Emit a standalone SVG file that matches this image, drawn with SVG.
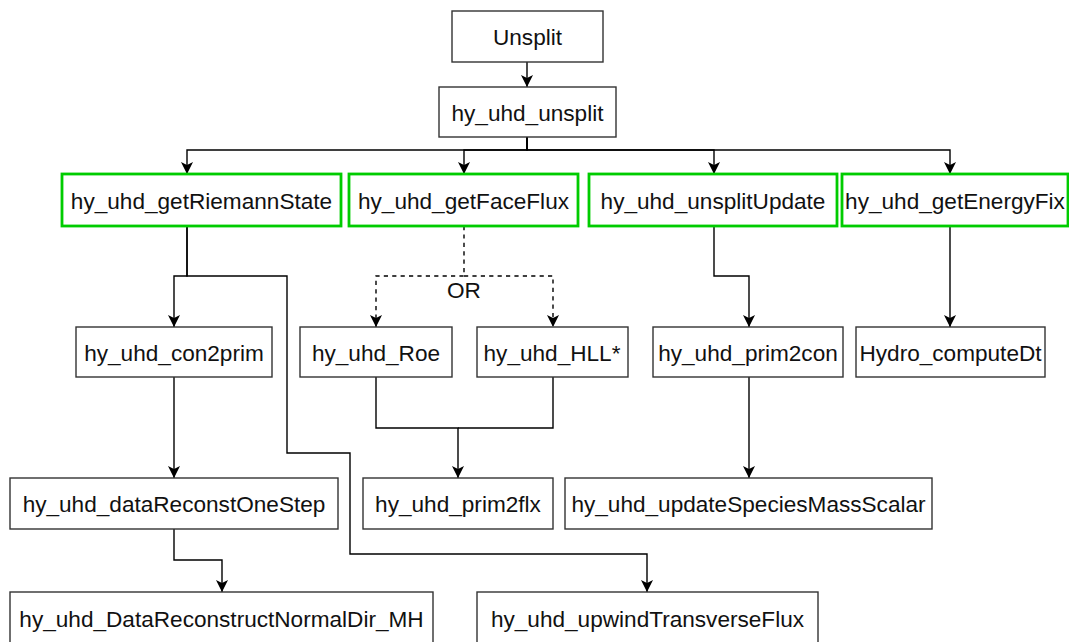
<svg xmlns="http://www.w3.org/2000/svg" width="1069" height="642" viewBox="0 0 1069 642">
<defs>
<style>
.box{fill:#ffffff;stroke:#333333;stroke-width:1.4}
.gbox{fill:#ffffff;stroke:#00cc00;stroke-width:2.8}
.lbl{font-family:"Liberation Sans",Arial,Helvetica,sans-serif;font-size:22.6px;fill:#111111;text-anchor:middle}
.edge{fill:none;stroke:#000000;stroke-width:1.4}
.dash{fill:none;stroke:#000000;stroke-width:1.4;stroke-dasharray:4.2 4.2}
</style>
<marker id="arr" viewBox="0 0 12 12" refX="12" refY="6" markerWidth="12" markerHeight="12" markerUnits="userSpaceOnUse" orient="auto">
<path d="M0,0 L12,6 L0,12 L3,6 Z" fill="#000000"/>
</marker>
</defs>
<rect width="1069" height="642" fill="#ffffff"/>
<g id="connectors">
<path class="edge" d="M527,62 V87" marker-end="url(#arr)"/>
<path class="edge" d="M527,137 V150 H187 V174" marker-end="url(#arr)"/>
<path class="edge" d="M527,137 V150 H464 V174" marker-end="url(#arr)"/>
<path class="edge" d="M527,137 V150 H714 V174" marker-end="url(#arr)"/>
<path class="edge" d="M527,137 V150 H950 V174" marker-end="url(#arr)"/>
<path class="edge" d="M187,226 V276 H174 V327" marker-end="url(#arr)"/>
<path class="edge" d="M187,226 V276 H287 V453 H350 V554 H647 V592" marker-end="url(#arr)"/>
<path class="dash" d="M464,226 V276 H376 V327" marker-end="url(#arr)"/>
<path class="dash" d="M464,276 H553 V327" marker-end="url(#arr)"/>
<path class="edge" d="M714,226 V276 H749 V327" marker-end="url(#arr)"/>
<path class="edge" d="M950,226 V327" marker-end="url(#arr)"/>
<path class="edge" d="M174,377 V478" marker-end="url(#arr)"/>
<path class="edge" d="M174,529 V560 H222 V592" marker-end="url(#arr)"/>
<path class="edge" d="M376,377 V428 H458 V478" marker-end="url(#arr)"/>
<path class="edge" d="M553,377 V428 H458"/>
<path class="edge" d="M749,377 V478" marker-end="url(#arr)"/>
<text class="lbl" x="464" y="298">OR</text>
</g>
<g id="n-unsplit"><rect class="box" x="452" y="11" width="151" height="51"/><text class="lbl" x="527.5" y="45">Unsplit</text></g>
<g id="n-hy_uhd_unsplit"><rect class="box" x="439" y="87" width="177" height="50"/><text class="lbl" x="527.5" y="120.5">hy_uhd_unsplit</text></g>
<g id="n-getRiemannState"><rect class="gbox" x="62" y="174" width="279" height="52"/><text class="lbl" x="201.5" y="208.5">hy_uhd_getRiemannState</text></g>
<g id="n-getFaceFlux"><rect class="gbox" x="349" y="174" width="229" height="52"/><text class="lbl" x="463.5" y="208.5">hy_uhd_getFaceFlux</text></g>
<g id="n-unsplitUpdate"><rect class="gbox" x="589" y="174" width="248" height="52"/><text class="lbl" x="713" y="208.5">hy_uhd_unsplitUpdate</text></g>
<g id="n-getEnergyFix"><rect class="gbox" x="842" y="174" width="226" height="52"/><text class="lbl" x="955" y="208.5">hy_uhd_getEnergyFix</text></g>
<g id="n-con2prim"><rect class="box" x="76" y="327" width="196" height="50"/><text class="lbl" x="174" y="360.5">hy_uhd_con2prim</text></g>
<g id="n-Roe"><rect class="box" x="300" y="327" width="152" height="50"/><text class="lbl" x="376" y="360.5">hy_uhd_Roe</text></g>
<g id="n-HLL"><rect class="box" x="477" y="327" width="151" height="50"/><text class="lbl" x="552" y="360.5">hy_uhd_HLL*</text></g>
<g id="n-prim2con"><rect class="box" x="653" y="327" width="190" height="50"/><text class="lbl" x="748" y="360.5">hy_uhd_prim2con</text></g>
<g id="n-computeDt"><rect class="box" x="856" y="327" width="189" height="50"/><text class="lbl" x="950.5" y="360.5">Hydro_computeDt</text></g>
<g id="n-dataReconstOneStep"><rect class="box" x="10" y="478" width="328" height="51"/><text class="lbl" x="174" y="512">hy_uhd_dataReconstOneStep</text></g>
<g id="n-prim2flx"><rect class="box" x="363" y="478" width="190" height="51"/><text class="lbl" x="458" y="512">hy_uhd_prim2flx</text></g>
<g id="n-updateSpecies"><rect class="box" x="565" y="478" width="367" height="51"/><text class="lbl" x="748.5" y="512">hy_uhd_updateSpeciesMassScalar</text></g>
<g id="n-DataReconstructNormalDir"><rect class="box" x="10" y="592" width="423" height="51"/><text class="lbl" x="221.5" y="626.5">hy_uhd_DataReconstructNormalDir_MH</text></g>
<g id="n-upwindTransverseFlux"><rect class="box" x="477" y="592" width="341" height="51"/><text class="lbl" x="647.5" y="626.5">hy_uhd_upwindTransverseFlux</text></g>
</svg>
